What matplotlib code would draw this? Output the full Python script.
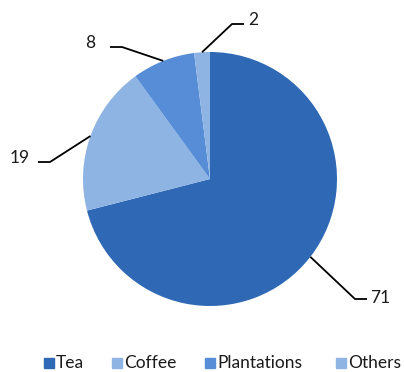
import numpy as np
import matplotlib
matplotlib.use('Agg')
import matplotlib.pyplot as plt
from matplotlib.patches import Rectangle

plt.rcParams['font.family'] = ['Lato', 'DejaVu Sans']

categories = ['Tea', 'Coffee', 'Plantations', 'Others']
shares = [71, 19, 8, 2]
colors = ['#2F69B5', '#8EB4E3', '#568DD6', '#8EB4E3']

W, H = 404, 372
# where each value label sits and where its leader line bends (pixels from top-left)
label_pos = [(380, 298), (20, 158), (90, 43), (253, 20)]
elbow_pos = [(355, 299), (50, 162), (122, 47), (232, 24)]
legend_x = [44, 112, 205, 336]

fig = plt.figure(figsize=(W / 100, H / 100), dpi=100)
ax = fig.add_axes([0, 0, 1, 1])

cx, cy, r = 210, H - 179, 127
wedges, _ = ax.pie(shares, colors=colors, startangle=90, counterclock=False,
                   center=(cx, cy), radius=r, frame=True)
ax.set_xlim(0, W)
ax.set_ylim(0, H)
ax.set_aspect('equal')
ax.axis('off')

for w, val, (lx, ly), (ex, ey) in zip(wedges, shares, label_pos, elbow_pos):
    mid = np.deg2rad((w.theta1 + w.theta2) / 2)
    px = cx + r * np.cos(mid)
    py = cy + r * np.sin(mid)
    tx = ex - 12 if lx < cx else ex + 12
    ax.plot([px, ex, tx], [py, H - ey, H - ey], color='black', lw=1.3,
            solid_capstyle='butt')
    ax.text(lx, H - ly, str(val), fontsize=12.5, ha='center', va='center',
            color='#1a1a1a')

for x, name, c in zip(legend_x, categories, colors):
    ax.add_patch(Rectangle((x, H - 368), 10, 10, color=c))
    ax.text(x + 12, H - 363, name, fontsize=12.5, va='center', ha='left',
            color='#1a1a1a')

fig.savefig('out.png', dpi=100)
